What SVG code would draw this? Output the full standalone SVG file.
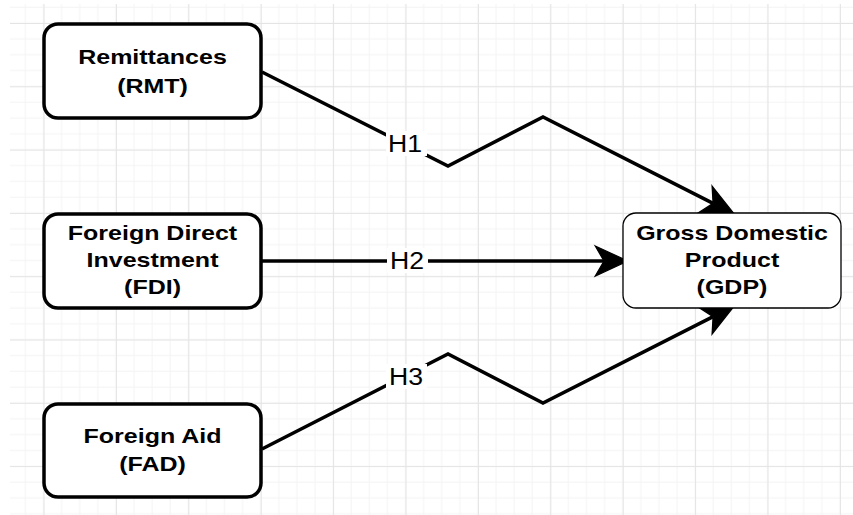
<svg xmlns="http://www.w3.org/2000/svg" width="853" height="515" viewBox="0 0 853 515">
  <style>
    .box { fill: #ffffff; stroke: #000000; stroke-width: 3.5; }
    .box-thin { fill: #ffffff; stroke: #000000; stroke-width: 1.3; }
    .lbl { font-family: "Liberation Sans", Arial, sans-serif; font-weight: bold; font-size: 21px; fill: #000000; text-anchor: middle; }
    .h { font-family: "Liberation Sans", Arial, sans-serif; font-size: 24px; fill: #000000; text-anchor: middle; }
    .edge { fill: none; stroke: #000000; stroke-width: 3.5; stroke-linejoin: miter; }
    .lblbg { fill: #ffffff; }
  </style>
  <defs>
    <pattern id="minor" x="10" y="4" width="18.1" height="15.83" patternUnits="userSpaceOnUse">
      <path d="M15.4,0 V15.83 M0,3.3 H18.1" fill="none" stroke="#f3f3f3" stroke-width="1"/>
    </pattern>
    <pattern id="major" x="-28.9" y="-40.3" width="72.4" height="63.3" patternUnits="userSpaceOnUse">
      <path d="M0.5,0 V63.3 M0,0.5 H72.4" fill="none" stroke="#e4e4e4" stroke-width="1"/>
    </pattern>
    <marker id="arrow" markerUnits="userSpaceOnUse" markerWidth="40" markerHeight="40" viewBox="-10 -15 32 30" refX="0" refY="0" orient="auto">
      <path d="M-7,-12 L19,0 L-7,12 L0,0 Z" fill="#000000" stroke="#000000" stroke-width="1" stroke-linejoin="miter"/>
    </marker>
  </defs>
  <rect x="0" y="0" width="853" height="515" fill="#ffffff"/>
  <rect x="10" y="4" width="843" height="511" fill="url(#minor)"/>
  <rect x="10" y="4" width="843" height="511" fill="url(#major)"/>

  <g id="connectors">
    <path class="edge" d="M262,72 L448,166 L543,117 L713.1,203.4" marker-end="url(#arrow)"/>
    <path class="edge" d="M262,261 L604,261" marker-end="url(#arrow)"/>
    <path class="edge" d="M262,449 L448,354 L543,403 L713.1,316.6" marker-end="url(#arrow)"/>
    <g id="label-h1">
      <rect class="lblbg" x="386" y="131" width="41" height="25"/>
      <text class="h" transform="translate(405,152) scale(1.11,1)">H1</text>
    </g>
    <g id="label-h2">
      <rect class="lblbg" x="387" y="248" width="41" height="25"/>
      <text class="h" transform="translate(407,269) scale(1.11,1)">H2</text>
    </g>
    <g id="label-h3">
      <rect class="lblbg" x="386" y="364" width="41" height="25"/>
      <text class="h" transform="translate(406,385) scale(1.11,1)">H3</text>
    </g>
  </g>

  <g id="node-rmt">
    <rect class="box" x="44" y="24" width="217" height="94" rx="14" ry="14"/>
    <g transform="translate(152.5,0) scale(1.19,1)">
      <text class="lbl" x="0" y="64">Remittances</text>
      <text class="lbl" x="0" y="93">(RMT)</text>
    </g>
  </g>

  <g id="node-fdi">
    <rect class="box" x="44" y="214" width="217" height="94" rx="14" ry="14"/>
    <g transform="translate(152.5,0) scale(1.19,1)">
      <text class="lbl" x="0" y="240">Foreign Direct</text>
      <text class="lbl" x="0" y="267">Investment</text>
      <text class="lbl" x="0" y="294">(FDI)</text>
    </g>
  </g>

  <g id="node-fad">
    <rect class="box" x="44" y="404" width="217" height="93" rx="14" ry="14"/>
    <g transform="translate(152.5,0) scale(1.19,1)">
      <text class="lbl" x="0" y="443">Foreign Aid</text>
      <text class="lbl" x="0" y="471">(FAD)</text>
    </g>
  </g>

  <g id="node-gdp">
    <rect class="box-thin" x="623" y="213" width="218" height="95" rx="13" ry="13"/>
    <g transform="translate(732,0) scale(1.19,1)">
      <text class="lbl" x="0" y="240">Gross Domestic</text>
      <text class="lbl" x="0" y="267">Product</text>
      <text class="lbl" x="0" y="294">(GDP)</text>
    </g>
  </g>
</svg>
